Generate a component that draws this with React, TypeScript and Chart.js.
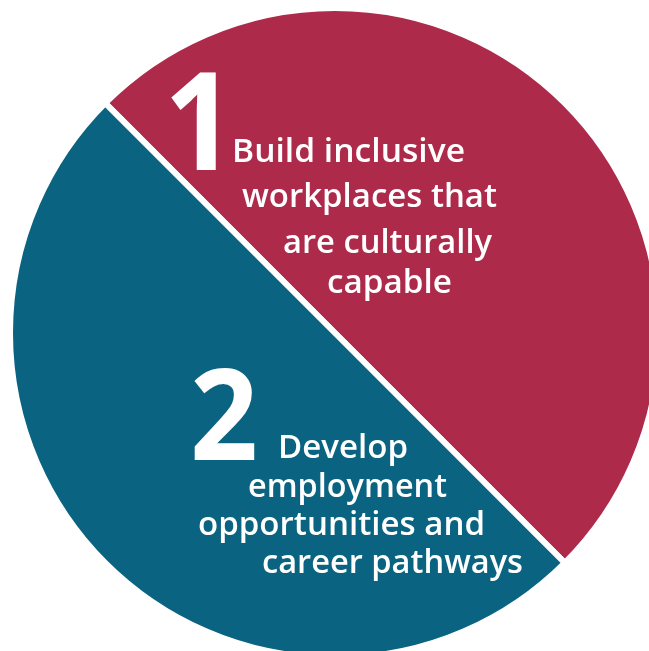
import React, { useEffect, useRef } from "react";
import { Chart, registerables } from "chart.js";

Chart.register(...registerables);

// ---- data ----
const categories = [
  "Build inclusive workplaces that are culturally capable",
  "Develop employment opportunities and career pathways",
];
const shares = [50, 50];
const numbers = ["1", "2"];
const labelLines1 = ["Build inclusive", "workplaces that", "are culturally", "capable"];
const labelLines2 = ["Develop", "employment", "opportunities and", "career pathways"];
const colors = ["#AD2A4B", "#0A6380"];

// ---- layout (page px; converted to offsets from pie centre) ----
const CANVAS = 656;
const CENTER_X = 335;
const CENTER_Y = 333;
const FONT = "'Open Sans', 'Noto Sans', sans-serif";
const TEXT_SIZE = 32;
const numberLayout = [
  { x: 164, y: 170, size: 136, sx: 0.92 },
  { x: 190, y: 460, size: 128, sx: 0.93 },
];
const lineLayout1 = [
  { x: 232, y: 162, w: 233 },
  { x: 242, y: 207, w: 255 },
  { x: 283, y: 253, w: 209 },
  { x: 327, y: 293, w: 125 },
];
const lineLayout2 = [
  { x: 278, y: 458, w: 130 },
  { x: 248, y: 497, w: 199 },
  { x: 198, y: 535, w: 287 },
  { x: 262, y: 573, w: 261 },
];

function drawScaled(ctx: CanvasRenderingContext2D, t: string, x: number, y: number, s: number) {
  ctx.save();
  ctx.translate(x, y);
  ctx.scale(s, 1);
  ctx.fillText(t, 0, 0);
  ctx.restore();
}

const textPlugin = {
  id: "pieText",
  afterDraw(chart: any) {
    const arc = chart.getDatasetMeta(0).data[0];
    if (!arc) return;
    const cx = arc.x;
    const cy = arc.y;
    const ctx = chart.ctx as CanvasRenderingContext2D;
    ctx.save();
    ctx.fillStyle = "#ffffff";
    ctx.textAlign = "left";
    ctx.textBaseline = "alphabetic";
    numbers.forEach((n, i) => {
      const l = numberLayout[i];
      ctx.font = `700 ${l.size}px ${FONT}`;
      drawScaled(ctx, n, cx + (l.x - CENTER_X), cy + (l.y - CENTER_Y), l.sx);
    });
    ctx.font = `600 ${TEXT_SIZE}px ${FONT}`;
    const drawBlock = (lines: string[], lay: { x: number; y: number; w: number }[]) => {
      lines.forEach((t, i) => {
        const m = ctx.measureText(t).width || 1;
        drawScaled(ctx, t, cx + (lay[i].x - CENTER_X), cy + (lay[i].y - CENTER_Y), lay[i].w / m);
      });
    };
    drawBlock(labelLines1, lineLayout1);
    drawBlock(labelLines2, lineLayout2);
    ctx.restore();
  },
};

export default function App() {
  const ref = useRef<HTMLCanvasElement | null>(null);
  useEffect(() => {
    if (!ref.current) return;
    const chart = new Chart(ref.current, {
      type: "pie",
      data: {
        labels: categories,
        datasets: [
          {
            data: shares,
            backgroundColor: colors,
            borderColor: "#ffffff",
            borderWidth: 6,
            hoverOffset: 0,
          },
        ],
      },
      options: {
        responsive: false,
        maintainAspectRatio: false,
        animation: false,
        rotation: -45,
        layout: { padding: 0 },
        plugins: {
          legend: { display: false },
          tooltip: { enabled: false },
        },
      },
      plugins: [textPlugin],
    });
    return () => chart.destroy();
  }, []);

  return (
    <div
      style={{
        position: "fixed",
        left: 0,
        top: 0,
        width: 649,
        height: 651,
        overflow: "hidden",
        background: "#ffffff",
      }}
    >
      <canvas
        ref={ref}
        width={CANVAS}
        height={CANVAS}
        style={{
          position: "absolute",
          left: CENTER_X - CANVAS / 2,
          top: CENTER_Y - CANVAS / 2,
          width: CANVAS,
          height: CANVAS,
        }}
      />
    </div>
  );
}
